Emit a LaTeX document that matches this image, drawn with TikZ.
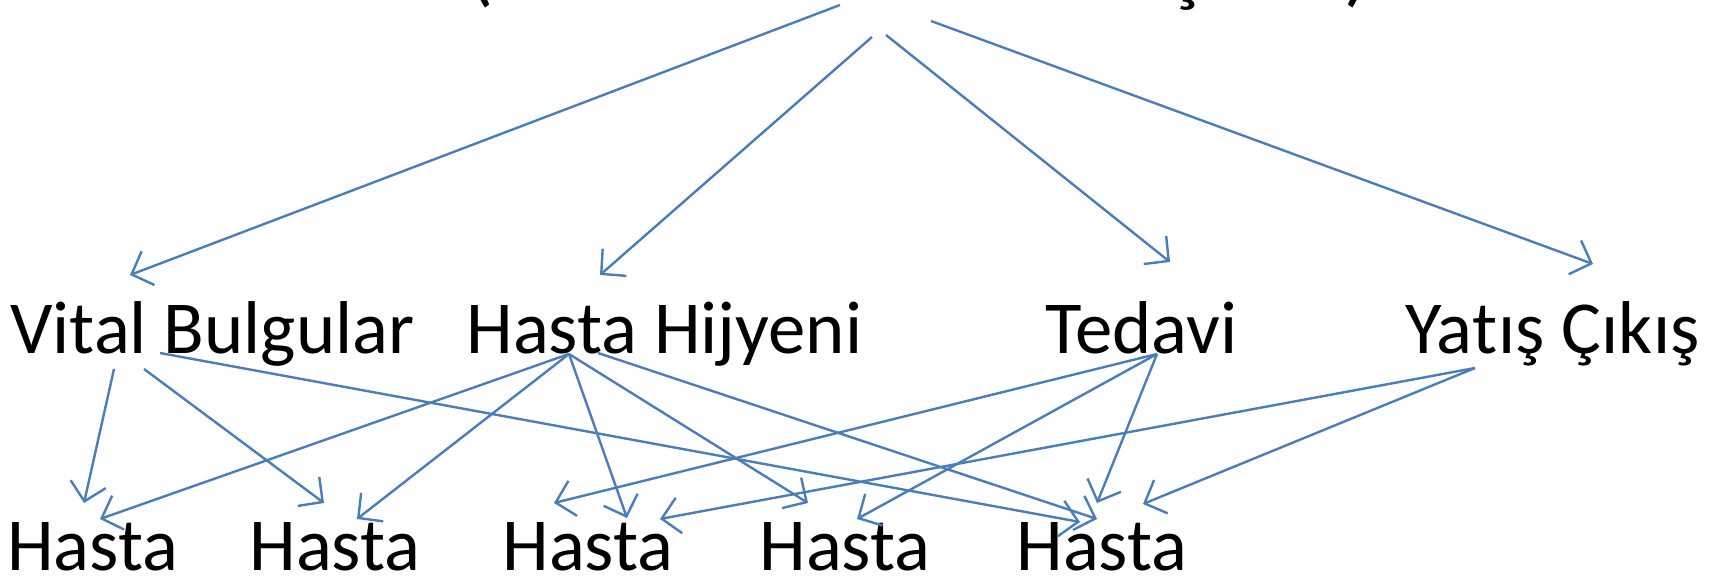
\documentclass[tikz,border=0pt]{standalone}
\usepackage{fontspec}
\setmainfont{Carlito}[Ligatures=NoCommon]
\usetikzlibrary{arrows.meta}
\definecolor{linkblue}{RGB}{74,126,187}
\tikzset{
  lbl/.style={font=\fontsize{37.4}{41}\selectfont, inner sep=0pt, anchor=base west, text=black},
  headline/.style={font=\fontsize{41.5}{46}\selectfont, inner sep=0pt, anchor=base west, text=black},
  link/.style={draw=linkblue, line width=1.2pt, line join=miter,
    -{Straight Barb[length=8.8pt,width=18pt]}},
}
\begin{document}
\begin{tikzpicture}[x=0.5pt,y=-0.5pt]
\useasboundingbox (0,0) rectangle (1725,577);
\clip (0,0) rectangle (1725,577);

% heading (only its lower edge falls inside the frame)
\node[headline] (top) at (468,-3) {(Servis Sorumlu Hemşiresi)};

% second level
\node[lbl] (vit) at (10,354)   {Vital Bulgular};
\node[lbl] (hij) at (466,354)  {Hasta Hijyeni};
\node[lbl] (ted) at (1045,354) {Tedavi};
\node[lbl] (yat) at (1405,354) {Yat\kern0.8pt ış Çıkış};

% third level
\node[lbl] (h1) at (7,570)    {Hasta};
\node[lbl] (h2) at (249,570)  {Hasta};
\node[lbl] (h3) at (502,570)  {Hasta};
\node[lbl] (h4) at (759,570)  {Hasta};
\node[lbl] (h5) at (1016,570) {Hasta};

% connector ends below the heading
\coordinate (top-a) at (840,5);
\coordinate (top-b) at (872,37);
\coordinate (top-c) at (886,35);
\coordinate (top-d) at (931,21);

% connector ends above the second level
\coordinate (vit-in) at (130,275);
\coordinate (hij-in) at (600,275);
\coordinate (ted-in) at (1170,262);
\coordinate (yat-in) at (1593,264);

% connector ends below the second level
\coordinate (vit-a) at (114,369);
\coordinate (vit-b) at (144,369);
\coordinate (vit-c) at (160,353);
\coordinate (hij-a) at (569,354);
\coordinate (hij-b) at (598,353);
\coordinate (ted-a) at (1157,354);
\coordinate (yat-a) at (1475,368);

% connector ends above the third level
\coordinate (h1-vit) at (84,503);
\coordinate (h1-hij) at (100,519);
\coordinate (h2-vit) at (324,503);
\coordinate (h2-hij) at (357,519);
\coordinate (h3-ted) at (554,503);
\coordinate (h3-hij) at (627,518);
\coordinate (h3-yat) at (660,519);
\coordinate (h4-hij) at (808,503);
\coordinate (h4-ted) at (857,519);
\coordinate (h5-vit) at (1080,522);
\coordinate (h5-hij) at (1097,519);
\coordinate (h5-ted) at (1097,503);
\coordinate (h5-yat) at (1143,504);

% heading to second level
\draw[link] (top-a) -- (vit-in);
\draw[link] (top-b) -- (hij-in);
\draw[link] (top-c) -- (ted-in);
\draw[link] (top-d) -- (yat-in);

% second level to third level
\draw[link] (vit-a) -- (h1-vit);
\draw[link] (vit-b) -- (h2-vit);
\draw[link] (vit-c) -- (h5-vit);

\draw[link] (hij-a) -- (h1-hij);
\draw[link] (hij-a) -- (h2-hij);
\draw[link] (hij-a) -- (h3-hij);
\draw[link] (hij-a) -- (h4-hij);
\draw[link] (hij-b) -- (h5-hij);

\draw[link] (ted-a) -- (h3-ted);
\draw[link] (ted-a) -- (h4-ted);
\draw[link] (ted-a) -- (h5-ted);

\draw[link] (yat-a) -- (h3-yat);
\draw[link] (yat-a) -- (h5-yat);
\end{tikzpicture}
\end{document}
